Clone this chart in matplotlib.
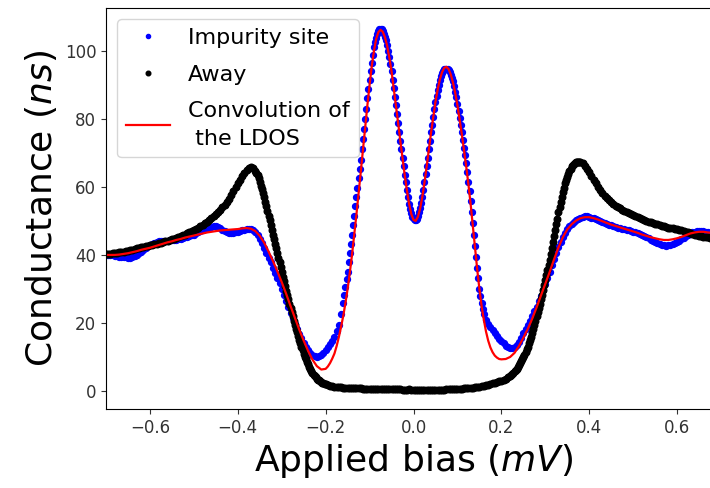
import numpy as np
import matplotlib
matplotlib.use("Agg")
import matplotlib.pyplot as plt

# ---- data (bias in mV, conductance in nS) ----

# "Away": 0.005 mV step, 0.0025 mV step on the two steep edges
away_left = [  # -0.70 .. -0.365
    40.3, 40.35, 40.4, 40.45, 40.5, 40.65, 40.8, 40.9, 41.0, 41.1,
    41.2, 41.35, 41.5, 41.7, 41.9, 42.1, 42.3, 42.4, 42.5, 42.65,
    42.8, 42.95, 43.1, 43.3, 43.5, 43.65, 43.8, 44.0, 44.2, 44.4,
    44.6, 44.8, 45.0, 45.25, 45.5, 45.75, 46.0, 46.3, 46.6, 46.95,
    47.3, 47.65, 48.0, 48.4, 48.8, 49.3, 49.8, 50.3, 50.8, 51.4,
    52.0, 52.65, 53.3, 53.95, 54.6, 55.5, 56.5, 57.6, 58.8, 59.9,
    61.0, 62.1, 63.2, 64.2, 65.0, 65.5, 65.8, 65.5,
]
away_edge_l = [  # -0.36 .. -0.20
    64.8, 64.2, 63.4, 62.5, 61.5, 60.4, 59.3, 58.2, 57.0, 55.7,
    54.3, 52.9, 51.5, 50.2, 48.8, 47.4, 46.0, 44.7, 43.3, 41.9,
    40.5, 39.2, 37.8, 36.4, 35.0, 33.6, 32.2, 30.8, 29.5, 28.2,
    27.0, 25.7, 24.5, 23.2, 22.0, 20.7, 19.5, 18.3, 17.2, 16.1,
    15.0, 14.0, 13.0, 12.0, 11.0, 10.1, 9.3, 8.5, 7.8, 7.1,
    6.5, 5.9, 5.3, 4.8, 4.4, 4.0, 3.6, 3.3, 3.1, 2.8,
    2.6, 2.4, 2.3, 2.1, 2.0,
]
away_gap = [  # -0.195 .. 0.215
    1.8, 1.6, 1.45, 1.3, 1.2, 1.1, 1.05, 1.0, 0.95,
    0.9, 0.9, 0.85, 0.8, 0.8, 0.8, 0.75, 0.7, 0.7, 0.7,
    0.7, 0.7, 0.65, 0.6, 0.6, 0.6, 0.55, 0.6, 0.6, 0.6,
    0.6, 0.55, 0.5, 0.5, 0.45, 0.4, 0.4, 0.4, 0.45, 0.4,
    0.4, 0.35, 0.3, 0.3, 0.25, 0.3, 0.3, 0.3, 0.3, 0.3,
    0.3, 0.3, 0.35, 0.4, 0.4, 0.45, 0.5, 0.5, 0.55, 0.6,
    0.6, 0.65, 0.7, 0.75, 0.8, 0.85, 0.9, 1.0, 1.1, 1.2,
    1.3, 1.45, 1.6, 1.75, 1.9, 2.05, 2.2, 2.4, 2.6, 2.8,
    3.0, 3.3, 3.6, 4.0,
]
away_edge_r = [  # 0.22 .. 0.38
    4.5, 4.8, 5.1, 5.4, 5.8, 6.2, 6.6, 7.0, 7.5, 8.1,
    8.7, 9.3, 10.0, 10.7, 11.4, 12.2, 13.0, 14.0, 15.0, 16.0,
    17.0, 18.2, 19.5, 20.7, 22.0, 23.2, 24.5, 25.7, 27.0, 28.3,
    29.7, 31.1, 32.5, 34.0, 35.5, 37.0, 38.5, 40.2, 42.0, 43.7,
    45.5, 47.2, 49.0, 50.7, 52.5, 54.0, 55.5, 57.0, 58.5, 59.8,
    61.0, 62.0, 63.0, 63.9, 64.7, 65.4, 66.0, 66.4, 66.8, 67.1,
    67.3, 67.4, 67.4, 67.4, 67.3,
]
away_right = [  # 0.385 .. 0.70
    66.9, 66.2, 65.3,
    64.3, 63.1, 62.0, 61.0, 60.0, 59.1, 58.2, 57.4, 56.7, 56.1,
    55.5, 55.0, 54.5, 54.1, 53.7, 53.35, 53.0, 52.6, 52.3, 52.0,
    51.7, 51.4, 51.1, 50.8, 50.5, 50.25, 50.0, 49.8, 49.6, 49.4,
    49.2, 49.0, 48.8, 48.6, 48.4, 48.2, 48.0, 47.9, 47.8, 47.65,
    47.5, 47.35, 47.2, 47.0, 46.8, 46.6, 46.4, 46.2, 46.0, 45.85,
    45.7, 45.55, 45.4, 45.3, 45.2, 45.1, 45.0, 44.95, 44.9, 44.85,
    44.8,
]

# "Impurity site": 0.005 step outside the gap, 0.0025 step in -0.16..0.16
imp_left = [
    40.0, 39.95, 39.9, 39.85, 39.8, 39.65, 39.5, 39.4, 39.3, 39.25,
    39.2, 39.2, 39.3, 39.6, 40.0, 40.5, 41.0, 41.5, 42.0, 42.5,
    43.0, 43.3, 43.6, 43.8, 44.0, 44.05, 44.1, 44.15, 44.2, 44.25,
    44.3, 44.4, 44.5, 44.65, 44.8, 45.0, 45.2, 45.4, 45.6, 45.8,
    46.0, 46.3, 46.6, 46.9, 47.2, 47.5, 47.8, 48.05, 48.3, 48.4,
    48.4, 48.2, 47.8, 47.4, 47.0, 46.7, 46.5, 46.5, 46.5, 46.6,
    46.8, 47.0, 47.2, 47.35, 47.5, 47.6, 47.6, 47.3, 46.8, 45.9,
    44.8, 43.4, 42.0, 40.6, 39.2, 37.8, 36.3, 34.8, 33.2, 31.6,
    30.0, 28.3, 26.5, 24.7, 23.0, 21.4, 19.8, 18.3, 16.8, 15.5,
    14.2, 13.0, 12.0, 11.2, 10.5, 10.2, 10.0, 10.3, 10.7, 11.3,
    12.0, 12.9, 13.8, 14.8, 15.8, 17.5, 19.5, 22.5,
]
imp_mid = [
    26.0, 28.3, 30.5, 32.8, 35.0, 37.8, 40.5, 43.3, 46.0, 48.8,
    51.5, 54.3, 57.0, 59.8, 62.5, 65.3, 68.0, 71.0, 74.0, 77.0,
    80.0, 83.0, 86.0, 88.8, 91.5, 94.0, 96.5, 98.8, 101.0, 102.5,
    103.8, 104.9, 105.8, 106.3, 106.5, 106.3, 105.8, 105.0, 104.2, 103.1,
    101.8, 100.0, 98.2, 96.2, 94.0, 91.5, 89.0, 86.5, 84.0, 81.4,
    78.8, 76.1, 73.5, 71.0, 68.5, 66.0, 63.5, 61.3, 59.0, 57.0,
    55.0, 53.5, 52.2, 51.2, 50.5, 50.2, 50.2, 50.7, 51.5, 52.6,
    53.8, 55.3, 57.0, 59.2, 61.4, 63.7, 66.0, 68.5, 71.0, 73.5,
    76.0, 78.3, 80.5, 82.8, 85.0, 86.8, 88.5, 90.1, 91.5, 92.6,
    93.5, 94.2, 94.6, 94.8, 94.8, 94.7, 94.4, 93.8, 93.0, 92.1,
    91.0, 89.6, 88.0, 86.3, 84.5, 82.4, 80.3, 78.2, 76.0, 73.8,
    71.5, 69.3, 67.0, 64.3, 61.5, 58.8, 56.0, 52.6, 49.3, 45.9,
    42.5, 39.4, 36.3, 33.1, 30.0, 28.0, 26.0, 24.2, 22.5,
]
imp_right = [
    21.0, 19.8, 18.7, 17.8, 17.0, 16.2, 15.4, 14.7, 14.0, 13.3,
    12.8, 12.5, 12.5, 12.8, 13.5, 14.5, 15.7, 17.0, 18.2, 19.5,
    20.7, 22.0, 23.4, 24.8, 26.4, 28.0, 29.7, 31.5, 33.2, 35.0,
    36.9, 38.8, 40.6, 42.3, 43.9, 45.3, 46.5, 47.5, 48.4, 49.2,
    49.8, 50.3, 50.7, 51.0, 51.2, 51.3, 51.3, 51.2, 51.0, 50.8,
    50.6, 50.3, 50.0, 49.7, 49.5, 49.2, 48.9, 48.7, 48.4, 48.2,
    48.0, 47.9, 47.7, 47.6, 47.4, 47.2, 47.0, 46.8, 46.6, 46.3,
    46.1, 45.8, 45.5, 45.2, 44.9, 44.5, 44.2, 43.8, 43.5, 43.2,
    43.0, 42.8, 42.7, 42.8, 43.0, 43.2, 43.5, 43.8, 44.2, 44.6,
    45.0, 45.5, 45.9, 46.3, 46.6, 46.8, 46.9, 47.0, 47.0, 46.9,
    46.8, 46.6, 46.5, 46.5, 46.4, 46.4, 46.3, 46.3,
]

# Convolution of the LDOS: 0.01 step outside, 0.005 step in -0.20..0.20
conv_left = [
    40.0, 40.0, 40.0, 40.1, 40.3, 40.5, 40.8, 41.1, 41.5, 41.8,
    42.1, 42.5, 42.9, 43.3, 43.7, 44.0, 44.4, 44.7, 45.1, 45.4,
    45.7, 46.0, 46.3, 46.6, 46.8, 47.0, 47.2, 47.3, 47.4, 47.5,
    47.6, 47.8, 47.9, 47.7, 47.0, 45.6, 43.6, 41.0, 38.2, 35.2,
    32.0, 28.6, 25.0, 21.5, 18.0, 14.8, 11.8, 9.2, 7.3, 6.3,
]
conv_mid = [
    6.5, 7.2, 8.2, 9.5, 11.0, 13.2, 15.8, 18.8, 22.0, 25.8,
    30.0, 34.8, 40.0, 45.8, 51.8, 58.0, 64.5, 71.0, 77.5, 84.0,
    90.0, 95.5, 100.0, 103.5, 105.5, 106.2, 105.6, 104.0, 101.5, 98.0,
    94.0, 89.0, 84.0, 78.8, 73.5, 68.5, 63.5, 59.0, 55.0, 52.0,
    50.3, 50.0, 51.2, 53.6, 57.0, 61.3, 66.0, 71.0, 76.0, 80.6,
    85.0, 88.6, 91.6, 93.7, 95.0, 95.3, 94.6, 93.0, 90.6, 87.6,
    84.0, 79.8, 75.5, 70.8, 66.0, 60.8, 55.0, 48.6, 42.0, 35.8,
    30.0, 25.0, 21.0, 17.5, 14.8, 12.8, 11.4, 10.4, 9.8, 9.4,
    9.3,
]
conv_right = [
    9.4, 10.0, 11.2, 13.2, 15.6, 18.2, 21.2, 24.5, 28.0, 31.5,
    35.0, 38.7, 42.2, 45.2, 47.5, 49.0, 50.1, 50.8, 51.1, 51.1,
    50.8, 50.4, 49.9, 49.4, 48.9, 48.5, 48.1, 47.7, 47.3, 46.9,
    46.5, 46.0, 45.6, 45.2, 44.9, 44.6, 44.4, 44.4, 44.6, 44.9,
    45.3, 45.8, 46.3, 46.6, 46.8, 46.8, 46.6, 46.5, 46.4, 46.3,
]

# bias sweeps (start, stop of each segment)
away_v = np.concatenate([
    np.linspace(-0.70, -0.365, len(away_left)),
    np.linspace(-0.36, -0.20, len(away_edge_l)),
    np.linspace(-0.195, 0.215, len(away_gap)),
    np.linspace(0.22, 0.38, len(away_edge_r)),
    np.linspace(0.385, 0.70, len(away_right)),
])
away_g = away_left + away_edge_l + away_gap + away_edge_r + away_right
imp_v = np.concatenate([
    np.linspace(-0.70, -0.165, len(imp_left)),
    np.linspace(-0.16, 0.16, len(imp_mid)),
    np.linspace(0.165, 0.70, len(imp_right)),
])
imp_g = imp_left + imp_mid + imp_right
conv_v = np.concatenate([
    np.linspace(-0.70, -0.21, len(conv_left)),
    np.linspace(-0.20, 0.20, len(conv_mid)),
    np.linspace(0.21, 0.70, len(conv_right)),
])
conv_g = conv_left + conv_mid + conv_right

xticks = [-0.6, -0.4, -0.2, 0.0, 0.2, 0.4, 0.6]
yticks = [0, 20, 40, 60, 80, 100]


fig = plt.figure(figsize=(7.1, 4.88), dpi=100)
# axes run slightly past the right edge, like the cropped original
ax = fig.add_axes([0.1493, 0.1619, 0.8662, 0.8217])

ax.plot(imp_v, imp_g, "b.", ms=8.5, label="Impurity site")
ax.plot(away_v, away_g, "k.", ms=9.5, label="Away")
ax.plot(conv_v, conv_g, "r-", lw=1.6, label="Convolution of\n the LDOS")

ax.set_xlim(-0.7, 0.7)
ax.set_ylim(-5.3, 112.6)
ax.set_xticks(xticks)
ax.set_yticks(yticks)
ax.tick_params(labelsize=12, colors="#333333")

ax.set_xlabel("Applied bias ($mV$)", fontsize=26)
ax.set_ylabel("Conductance ($ns$)", fontsize=26)
leg = ax.legend(loc="upper left", fontsize=16, labelspacing=0.75,
                markerscale=0.7)
leg.get_texts()[2].set_linespacing(1.45)

fig.savefig("out.png", dpi=100)
